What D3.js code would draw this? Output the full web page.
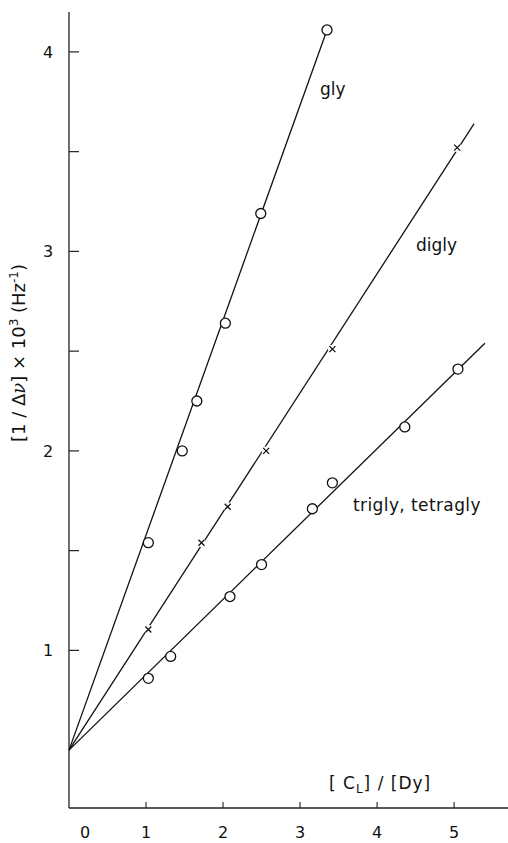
<!DOCTYPE html>
<html>
<head>
<meta charset="utf-8">
<script src="https://cdn.jsdelivr.net/npm/d3@7"></script>
<style>
  body { margin: 0; background: #fff; }
  svg text { font-family: "DejaVu Sans", sans-serif; fill: #111; }
</style>
</head>
<body>
<script>
// values
const glyX = [1.03, 1.47, 1.66, 2.03, 2.49, 3.35];
const glyY = [1.54, 2.00, 2.25, 2.64, 3.19, 4.11];
const diglyX = [1.03, 1.72, 2.06, 2.56, 3.42, 5.04];
const diglyY = [1.105, 1.54, 1.72, 2.00, 2.51, 3.52];
const triglyX = [1.03, 1.32, 2.09, 2.50, 3.16, 3.42, 4.36, 5.05];
const triglyY = [0.86, 0.97, 1.27, 1.43, 1.71, 1.84, 2.12, 2.41];
const intercept = [0, 0.5];
// fitted line end points
const lineEnds = { gly: [3.35, 4.11], digly: [5.26, 3.64], trigly: [5.40, 2.54] };

const xTicks = [0, 1, 2, 3, 4, 5];
const yTicks = [1, 1.5, 2, 2.5, 3, 3.5, 4];
const yLabels = [1, 2, 3, 4];

const width = 508, height = 843;

const x = d3.scaleLinear().domain([0, 5.7]).range([69, 508]);
const y = d3.scaleLinear().domain([0.21, 4.2]).range([808, 12]);

const svg = d3.select("body").append("svg")
  .attr("width", width)
  .attr("height", height);

// axes
svg.append("line")
  .attr("x1", x(0)).attr("x2", x(0))
  .attr("y1", y(4.2)).attr("y2", y(0.21))
  .attr("stroke", "#222").attr("stroke-width", 1.3);
svg.append("line")
  .attr("x1", x(0)).attr("x2", x(5.7))
  .attr("y1", y(0.21)).attr("y2", y(0.21))
  .attr("stroke", "#222").attr("stroke-width", 1.3);

svg.selectAll(".ytick")
  .data(yTicks)
  .enter().append("line")
    .attr("x1", x(0)).attr("x2", x(0) + 10)
    .attr("y1", d => y(d)).attr("y2", d => y(d))
    .attr("stroke", "#222").attr("stroke-width", 1.2);

svg.selectAll(".ylab")
  .data(yLabels)
  .enter().append("text")
    .attr("x", 48)
    .attr("y", d => y(d))
    .attr("dy", "0.36em")
    .attr("text-anchor", "middle")
    .style("font-size", "16px")
    .text(d => d);

svg.selectAll(".xtick")
  .data(xTicks.filter(d => d > 0))
  .enter().append("line")
    .attr("x1", d => x(d)).attr("x2", d => x(d))
    .attr("y1", y(0.21)).attr("y2", y(0.21) - 6)
    .attr("stroke", "#222").attr("stroke-width", 1.1);

svg.selectAll(".xlab")
  .data(xTicks)
  .enter().append("text")
    .attr("x", d => d === 0 ? x(d) + 16 : x(d))
    .attr("y", 838)
    .attr("text-anchor", "middle")
    .style("font-size", "16px")
    .text(d => d);

// axis titles
svg.append("text")
  .attr("transform", "translate(25,353) rotate(-90)")
  .attr("text-anchor", "middle")
  .style("font-size", "18px")
  .call(t => {
    t.append("tspan").text("[1 / Δ");
    t.append("tspan").style("font-family", "DejaVu Serif, serif").style("font-style", "italic").text("ν");
    t.append("tspan").text("] × 10");
    t.append("tspan").attr("dy", -7).style("font-size", "12px").text("3");
    t.append("tspan").attr("dy", 7).text(" (Hz");
    t.append("tspan").attr("dy", -7).style("font-size", "12px").text("-1");
    t.append("tspan").attr("dy", 7).text(")");
  });

svg.append("text")
  .attr("x", 329).attr("y", 789)
  .style("font-size", "17px")
  .style("letter-spacing", "1px")
  .call(t => {
    t.append("tspan").text("[ C");
    t.append("tspan").attr("dy", 4).style("font-size", "12px").text("L");
    t.append("tspan").attr("dy", -4).text("] / [Dy]");
  });

// series
const series = [
  { name: "gly", xs: glyX, ys: glyY, mark: "circle", end: lineEnds.gly },
  { name: "digly", xs: diglyX, ys: diglyY, mark: "cross", end: lineEnds.digly },
  { name: "trigly", xs: triglyX, ys: triglyY, mark: "circle", end: lineEnds.trigly }
];

const line = d3.line().x(d => x(d[0])).y(d => y(d[1]));

series.forEach(s => {
  svg.append("path")
    .attr("d", line([intercept, s.end]))
    .attr("fill", "none")
    .attr("stroke", "#111")
    .attr("stroke-width", 1.3);

  const pts = s.xs.map((v, i) => [v, s.ys[i]]);
  const g = svg.append("g");
  if (s.mark === "circle") {
    g.selectAll("circle")
      .data(pts)
      .enter().append("circle")
        .attr("cx", d => x(d[0]))
        .attr("cy", d => y(d[1]))
        .attr("r", 5)
        .attr("fill", "#fff")
        .attr("stroke", "#111")
        .attr("stroke-width", 1.3);
  } else {
    const m = g.selectAll("g")
      .data(pts)
      .enter().append("g")
        .attr("transform", d => `translate(${x(d[0])},${y(d[1])})`);
    m.append("circle").attr("r", 4.5).attr("fill", "#fff");
    m.append("path")
      .attr("d", "M-3,-3L3,3M-3,3L3,-3")
      .attr("stroke", "#111")
      .attr("stroke-width", 1.3);
  }
});

// series labels
svg.append("text").attr("x", 320).attr("y", 95).style("font-size", "17px").text("gly");
svg.append("text").attr("x", 416).attr("y", 251).style("font-size", "17px").text("digly");
svg.append("text").attr("x", 353).attr("y", 511).style("font-size", "17px").style("letter-spacing", "0.4px").text("trigly, tetragly");
</script>
</body>
</html>
